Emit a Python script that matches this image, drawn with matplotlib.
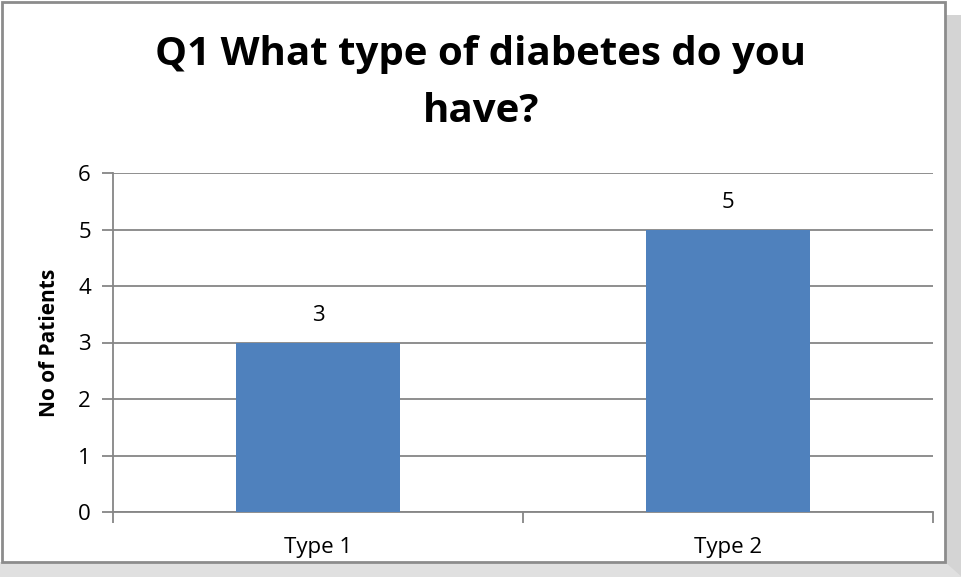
import matplotlib
matplotlib.use("Agg")
import matplotlib.pyplot as plt
from matplotlib.patches import Rectangle, Polygon
import numpy as np

categories = ["Type 1", "Type 2"]
patients = [3, 5]
y_ticks = [0, 1, 2, 3, 4, 5, 6]
title = "Q1 What type of diabetes do you\nhave?"
y_label = "No of Patients"

plt.rcParams['font.family'] = ['Open Sans', 'DejaVu Sans']

W, H = 962, 577
fig = plt.figure(figsize=(W / 100, H / 100), dpi=100)
fig.patch.set_facecolor("white")

# chart frame + Excel style shadow on right/bottom
fig.patches.append(Rectangle((945 / W, 0), 17 / W, 1 - 15 / H, transform=fig.transFigure,
                             facecolor="#d4d4d4", edgecolor="none", zorder=0))
fig.patches.append(Rectangle((0, 0), 945 / W, 15 / H, transform=fig.transFigure,
                             facecolor="#e0e0e0", edgecolor="none", zorder=0))
fig.patches.append(Polygon([(945 / W, 15 / H), (962 / W, 0), (945 / W, 0)], closed=True,
                           transform=fig.transFigure, facecolor="#e0e0e0", edgecolor="none", zorder=0))
fig.patches.append(Rectangle((2 / W, 15 / H), 943 / W, 1 - 17 / H, transform=fig.transFigure,
                             facecolor="white", edgecolor="#8c8c8c", linewidth=2, zorder=1))

ax = fig.add_axes([113 / W, 1 - 512 / H, 820 / W, 339 / H])
ax.set_zorder(2)
ax.patch.set_alpha(0)

x = np.arange(len(categories))
bars = ax.bar(x, patients, width=0.4, color="#4f81bd", zorder=3)
for b, v in zip(bars, patients):
    ax.text(b.get_x() + b.get_width() / 2, v + 0.3, str(v), ha="center", va="bottom",
            fontsize=16, color="black")

ax.set_xlim(-0.5, len(categories) - 0.5)
ax.set_ylim(0, 6)
ax.set_yticks(y_ticks)
ax.yaxis.grid(True, color="#868686", linewidth=1.3, zorder=0)
ax.set_axisbelow(True)

ax.set_xticks(x)
ax.set_xticklabels(categories, fontsize=16)
ax.set_xticks(np.arange(-0.5, len(categories)), minor=True)
ax.tick_params(axis="x", which="major", length=0, pad=18)
ax.tick_params(axis="x", which="minor", length=8, width=1.3, color="#868686")
ax.tick_params(axis="y", length=8, width=1.3, color="#868686", labelsize=16, pad=8)

for side in ["top", "right"]:
    ax.spines[side].set_visible(False)
for side in ["left", "bottom"]:
    ax.spines[side].set_color("#868686")
    ax.spines[side].set_linewidth(1.3)

ax.set_ylabel(y_label, fontsize=15, fontweight="bold", labelpad=13)
fig.text(481 / W, 1 - 83 / H, title, ha="center", va="center", fontsize=29,
         fontweight="bold", linespacing=1.6)

fig.savefig("out.png", dpi=100)
